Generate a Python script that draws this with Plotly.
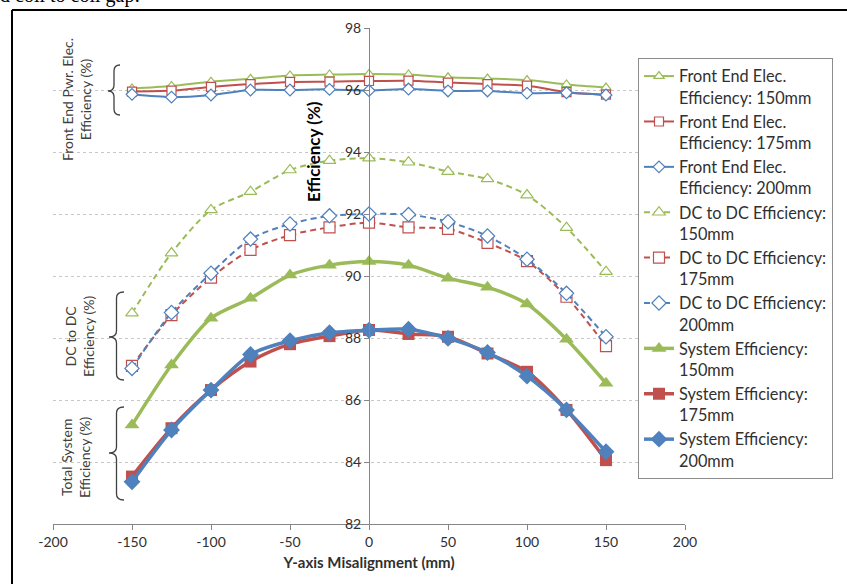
import plotly.graph_objects as go

# ---------------- data ----------------
misalign = [-150, -125, -100, -75, -50, -25, 0, 25, 50, 75, 100, 125, 150]

fe_150 = [96.05, 96.13, 96.27, 96.36, 96.47, 96.50, 96.52, 96.50, 96.41, 96.37, 96.32, 96.18, 96.08]
fe_175 = [95.95, 95.98, 96.10, 96.19, 96.26, 96.27, 96.29, 96.30, 96.24, 96.19, 96.14, 95.93, 95.85]
fe_200 = [95.86, 95.77, 95.84, 96.00, 96.00, 96.02, 95.98, 96.03, 95.97, 95.97, 95.90, 95.91, 95.84]

dc_150 = [88.80, 90.74, 92.13, 92.72, 93.42, 93.72, 93.80, 93.67, 93.37, 93.13, 92.61, 91.56, 90.14]
dc_175 = [87.10, 88.74, 89.95, 90.84, 91.32, 91.57, 91.72, 91.57, 91.52, 91.07, 90.48, 89.33, 87.74]
dc_200 = [87.02, 88.82, 90.09, 91.19, 91.68, 91.94, 92.00, 91.98, 91.75, 91.29, 90.54, 89.44, 88.04]

sys_150 = [85.19, 87.13, 88.64, 89.28, 90.03, 90.35, 90.47, 90.35, 89.93, 89.64, 89.10, 87.96, 86.54]
sys_175 = [83.53, 85.09, 86.32, 87.24, 87.80, 88.06, 88.26, 88.13, 88.04, 87.50, 86.91, 85.68, 84.06]
sys_200 = [83.36, 85.03, 86.32, 87.47, 87.91, 88.17, 88.25, 88.28, 87.99, 87.53, 86.77, 85.68, 84.33]

names = [
    "Front End Elec.<br>Efficiency: 150mm",
    "Front End Elec.<br>Efficiency: 175mm",
    "Front End Elec.<br>Efficiency: 200mm",
    "DC to DC Efficiency:<br>150mm",
    "DC to DC Efficiency:<br>175mm",
    "DC to DC Efficiency:<br>200mm",
    "System Efficiency:<br>150mm",
    "System Efficiency:<br>175mm",
    "System Efficiency:<br>200mm",
]

x_ticks = [-200, -150, -100, -50, 0, 50, 100, 150, 200]
y_ticks = [82, 84, 86, 88, 90, 92, 94, 96, 98]

GREEN = "#9BBB59"
RED = "#C0504D"
BLUE = "#4F81BD"
FONT = "Lato"
TXT = "#303030"

# ---------------- layout geometry (pixels) ----------------
W, H = 847, 584
L, R, T, B = 53, 685, 28, 524


def px(x):
    return (x - L) / (R - L)


def py(y):
    return (B - y) / (B - T)


fig = go.Figure()

series = [
    (fe_150, GREEN, "triangle-up", "solid", 2, 9, True),
    (fe_175, RED, "square", "solid", 2, 9, True),
    (fe_200, BLUE, "diamond", "solid", 2, 9, True),
    (dc_150, GREEN, "triangle-up", "6px,4px", 2, 11, True),
    (dc_175, RED, "square", "6px,4px", 2, 11, True),
    (dc_200, BLUE, "diamond", "6px,4px", 2, 11, True),
    (sys_150, GREEN, "triangle-up", "solid", 3.5, 13, False),
    (sys_175, RED, "square", "solid", 3.5, 12, False),
    (sys_200, BLUE, "diamond", "solid", 3.5, 13, False),
]

for i, ((vals, col, sym, dash, lw, ms, hollow), nm) in enumerate(zip(series, names)):
    fig.add_trace(go.Scatter(
        x=misalign, y=vals, name=nm, mode="lines+markers", legendgroup=f"g{i}",
        line=dict(color=col, width=lw, dash=dash, shape="spline", smoothing=0.8),
        marker=dict(symbol=sym, size=ms,
                    color="white" if hollow else col,
                    line=dict(color=col, width=1.2 if hollow else 0)),
    ))

fig.update_layout(
    width=W, height=H,
    margin=dict(l=L, r=W - R, t=T, b=H - B),
    paper_bgcolor="white", plot_bgcolor="white",
    font=dict(family=FONT, size=14, color=TXT),
    showlegend=True,
    legend=dict(
        x=px(638), y=py(58), xanchor="left", yanchor="top",
        bgcolor="white", bordercolor="#8c8c8c", borderwidth=1,
        font=dict(family=FONT, size=16.3, color=TXT),
        valign="top", tracegroupgap=0, itemwidth=30,
    ),
    xaxis=dict(
        range=[-200, 200], tickvals=x_ticks, ticktext=[str(v) for v in x_ticks],
        showgrid=False, zeroline=False, showline=True, linecolor="#868686",
        linewidth=1, ticks="outside", ticklen=5, tickcolor="#868686",
        tickfont=dict(family=FONT, size=14, color=TXT),
        title=dict(text="<b>Y-axis Misalignment (mm)</b>",
                   font=dict(family=FONT, size=15, color=TXT), standoff=8),
    ),
    yaxis=dict(
        range=[82, 98], tickvals=y_ticks, ticktext=[str(v) for v in y_ticks],
        anchor="free", position=0.5,
        showgrid=True, gridcolor="#C8C8C8", griddash="dot", gridwidth=1,
        zeroline=False, showline=True, linecolor="#868686", linewidth=1,
        ticks="outside", ticklen=5, tickcolor="#868686",
        tickfont=dict(family=FONT, size=14, color=TXT),
    ),
)

# y-axis title as annotation
fig.add_annotation(
    x=px(313), y=py(152), xref="paper", yref="paper",
    text="<b>Efficiency (%)</b>", textangle=-90, showarrow=False,
    font=dict(family=FONT, size=17, color="black"),
    xanchor="center", yanchor="middle",
)

# group labels with braces
groups = [
    ("Front End Pwr. Elec.<br>Efficiency (%)", 77, 100, 120, 108, 65, 115, 91),
    ("DC to DC<br>Efficiency (%)", 79, 336, 124, 109, 292, 380, 337),
    ("Total System<br>Efficiency (%)", 75, 457, 124, 109, 407, 500, 453),
]


def P(x, y):
    return f"{px(x):.5f},{py(y):.5f}"


for text, tx, ty, xr, xt, y0, y1, yc in groups:
    fig.add_annotation(
        x=px(tx), y=py(ty), xref="paper", yref="paper", text=text,
        textangle=-90, showarrow=False, xanchor="center", yanchor="middle",
        font=dict(family=FONT, size=14, color="#404040"),
    )
    xm = (xr + xt) / 2
    path = (f"M {P(xr, y0)} Q {P(xm, y0)} {P(xm, y0 + 6)} L {P(xm, yc - 6)} "
            f"Q {P(xm, yc)} {P(xt, yc)} Q {P(xm, yc)} {P(xm, yc + 6)} "
            f"L {P(xm, y1 - 6)} Q {P(xm, y1)} {P(xr, y1)}")
    fig.add_shape(type="path", path=path, xref="paper", yref="paper",
                  line=dict(color="#404040", width=1.3))

# outer frame of the figure (black border top & left)
fig.add_shape(type="line", xref="paper", yref="paper",
              x0=px(12), y0=py(10), x1=px(850), y1=py(10),
              line=dict(color="black", width=2))
fig.add_shape(type="line", xref="paper", yref="paper",
              x0=px(12), y0=py(10), x1=px(12), y1=py(590),
              line=dict(color="black", width=2))

# clipped document text above the chart
fig.add_annotation(
    x=px(-2), y=py(9), xref="paper", yref="paper",
    text="d coil to coil gap:", showarrow=False, xanchor="left", yanchor="bottom",
    font=dict(family="Liberation Serif", size=20, color="black"),
)

fig.write_html("out.html")
